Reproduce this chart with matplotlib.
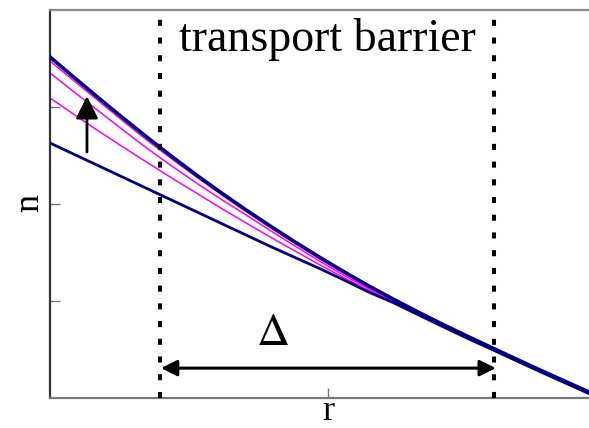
import numpy as np
import matplotlib.pyplot as plt

plt.rcParams['font.family'] = ['Liberation Serif', 'DejaVu Serif']
plt.rcParams['mathtext.fontset'] = 'stix'

# radius grid (normalised)
r = np.linspace(0, 1, 23)

# density profiles: before, during and after the barrier forms
n_final = [0.8789, 0.8253, 0.7724, 0.7206, 0.6701, 0.6211, 0.5737, 0.5284,
           0.4848, 0.4428, 0.4021, 0.3629, 0.3253, 0.2892, 0.2552, 0.2224,
           0.1907, 0.1603, 0.1307, 0.1013, 0.0722, 0.0438, 0.0155]
n_initial = [0.6572, 0.6276, 0.5979, 0.5683, 0.5387, 0.5090, 0.4794, 0.4497,
             0.4201, 0.3905, 0.3621, 0.3338, 0.3041, 0.2732, 0.2461, 0.2155,
             0.1850, 0.1550, 0.1262, 0.0970, 0.0680, 0.0396, 0.0113]
n_step1 = [0.7732, 0.7299, 0.6873, 0.6459, 0.6057, 0.5657, 0.5273, 0.4885,
           0.4513, 0.4144, 0.3789, 0.3436, 0.3098, 0.2776, 0.2475, 0.2160,
           0.1855, 0.1557, 0.1268, 0.0974, 0.0683, 0.0399, 0.0116]
n_step2 = [0.8377, 0.7879, 0.7389, 0.6897, 0.6417, 0.5966, 0.5531, 0.5116,
           0.4719, 0.4312, 0.3918, 0.3531, 0.3163, 0.2820, 0.2500, 0.2178,
           0.1868, 0.1572, 0.1281, 0.0987, 0.0696, 0.0412, 0.0129]
n_step3 = [0.8686, 0.8163, 0.7647, 0.7129, 0.6624, 0.6147, 0.5685, 0.5238,
           0.4809, 0.4389, 0.3982, 0.3590, 0.3214, 0.2853, 0.2513, 0.2198,
           0.1881, 0.1577, 0.1281, 0.0987, 0.0696, 0.0412, 0.0129]

barrier = [0.2045, 0.823]
r_tick = [0.516]
n_ticks = [0.25, 0.5, 0.75]

fig = plt.figure(figsize=(5.89, 4.28), dpi=100)
ax = fig.add_axes([50 / 589, 30 / 428, 539 / 589, 388 / 428])

for prof in (n_step1, n_step2, n_step3):
    ax.plot(r, prof, color='#ff00ff', lw=1.1, zorder=2)
ax.plot(r, n_initial, color='#000080', lw=2.0, zorder=3)
ax.plot(r, n_final, color='#000080', lw=2.6, zorder=3)

# barrier edges
for xb in barrier:
    ax.axvline(xb, color='black', lw=2.9, linestyle=(0, (1.5, 2.9)),
               dash_capstyle='butt', zorder=4)

ax.annotate('', xy=(0.0686, 0.778), xytext=(0.0686, 0.634),
            arrowprops=dict(arrowstyle='-|>', color='black', lw=2.0,
                            mutation_scale=34, shrinkA=0, shrinkB=0))
ax.annotate('', xy=(0.827, 0.077), xytext=(0.206, 0.077),
            arrowprops=dict(arrowstyle='<|-|>', color='black', lw=2.2,
                            mutation_scale=24, shrinkA=0, shrinkB=0))

ax.text(0.412, 0.165, r'$\Delta$', fontsize=33, ha='center', va='center')
ax.text(0.514, 0.923, 'transport barrier', fontsize=33, ha='center', va='center')

ax.set_xlim(0, 1)
ax.set_ylim(0, 1)
ax.set_xticks(r_tick)
ax.set_yticks(n_ticks)
ax.set_xticklabels([])
ax.set_yticklabels([])
ax.tick_params(direction='in', length=7, width=1, color='#777777')

ax.spines['right'].set_visible(False)
ax.spines['left'].set_color('#333333')
ax.spines['top'].set_color('#888888')
ax.spines['bottom'].set_color('#777777')
for s in ('left', 'top', 'bottom'):
    ax.spines[s].set_linewidth(1.6)

fig.text(30 / 589, 1 - 203 / 428, 'n', fontsize=26, rotation=90,
         ha='center', va='center')
fig.text(328 / 589, 1 - 412 / 428, 'r', fontsize=26, ha='center', va='center')

fig.savefig('out.png', dpi=100)
